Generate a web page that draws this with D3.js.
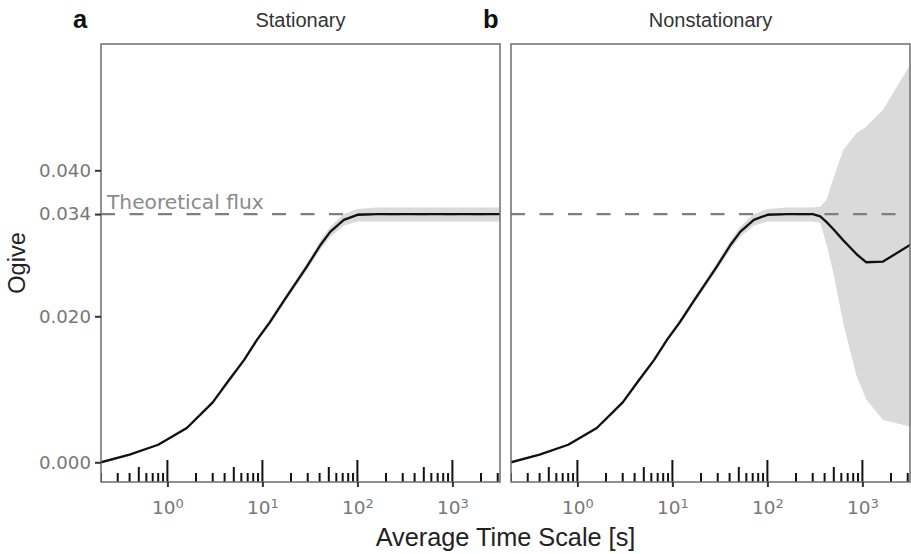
<!DOCTYPE html>
<html><head><meta charset="utf-8">
<script src="https://cdn.jsdelivr.net/npm/d3@7"></script>
<style>body{margin:0;background:#fff}</style>
</head><body>
<svg id="c" width="911" height="554"></svg>
<script>
// ---- data ----
const timeScales = [0.2, 0.4, 0.8, 1.6, 3, 4.3, 6.4, 8.8, 12, 17, 29, 41, 52, 72, 100, 160, 210, 300, 360, 420, 490, 630, 870, 1100, 1650, 3200];
const statMean  = [0, 0.00105, 0.0024, 0.0047, 0.0082, 0.0110, 0.0140, 0.0168, 0.0192, 0.0222, 0.0267, 0.0298, 0.0316, 0.0332, 0.0339, 0.0340, 0.0340, 0.0340, 0.0340, 0.0340, 0.0340, 0.0340, 0.0340, 0.0340, 0.0340, 0.0340];
const statLower = [0, 0.00095, 0.0023, 0.0045, 0.0080, 0.0107, 0.0137, 0.0165, 0.0188, 0.0218, 0.0262, 0.0292, 0.0309, 0.0324, 0.0330, 0.0330, 0.0330, 0.0330, 0.0330, 0.0330, 0.0330, 0.0330, 0.0330, 0.0330, 0.0330, 0.0330];
const statUpper = [0, 0.00115, 0.0025, 0.0049, 0.0084, 0.0113, 0.0143, 0.0171, 0.0196, 0.0226, 0.0272, 0.0304, 0.0323, 0.0340, 0.0347, 0.0349, 0.0349, 0.0349, 0.0349, 0.0349, 0.0349, 0.0349, 0.0349, 0.0349, 0.0349, 0.0349];
const nonMean   = [0, 0.00105, 0.0024, 0.0047, 0.0082, 0.0110, 0.0140, 0.0168, 0.0192, 0.0222, 0.0267, 0.0298, 0.0316, 0.0332, 0.0339, 0.0340, 0.0340, 0.0340, 0.0337, 0.0329, 0.0320, 0.0304, 0.0285, 0.0274, 0.0275, 0.0298];
const nonLower  = [0, 0.00095, 0.0023, 0.0045, 0.0080, 0.0107, 0.0137, 0.0165, 0.0188, 0.0218, 0.0262, 0.0292, 0.0309, 0.0324, 0.0330, 0.0330, 0.0330, 0.0330, 0.0328, 0.0298, 0.0262, 0.0190, 0.0118, 0.0086, 0.0058, 0.0049];
const nonUpper  = [0, 0.00115, 0.0025, 0.0049, 0.0084, 0.0113, 0.0143, 0.0171, 0.0196, 0.0226, 0.0272, 0.0304, 0.0323, 0.0340, 0.0347, 0.0349, 0.0349, 0.0349, 0.0350, 0.0360, 0.0387, 0.0428, 0.0451, 0.0460, 0.0483, 0.0545];
const theoreticalFlux = 0.034;
const yTickValues = [0, 0.020, 0.034, 0.040];
const xMajorTicks = [1, 10, 100, 1000];
const panelTitles = ["Stationary", "Nonstationary"];
const panelTags = ["a", "b"];
const xTitle = "Average Time Scale [s]";
const yTitle = "Ogive";
const annotationText = "Theoretical flux";

// ---- layout ----
const svg = d3.select("#c");
const panels = [
  {x0: 101, x1: 500, mean: statMean, lower: statLower, upper: statUpper},
  {x0: 511, x1: 910, mean: nonMean, lower: nonLower, upper: nonUpper}
];
const pTop = 44, pBottom = 482;
const y = d3.scaleLinear().domain([-0.0027, 0.0573]).range([pBottom, pTop]);
const xDomain = [0.2, 3170];

const logTicks = [];
[0.1, 1, 10, 100, 1000].forEach(d => {
  for (let m = 1; m <= 9; m++) {
    const v = d * m;
    if (v >= xDomain[0] && v <= xDomain[1]) logTicks.push({v, kind: m === 1 ? "major" : (m === 5 ? "mid" : "minor")});
  }
});
const tickLen = {major: 22, mid: 15, minor: 9};

panels.forEach((p, i) => {
  const x = d3.scaleLog().domain(xDomain).range([p.x0, p.x1]);
  const g = svg.append("g");
  const clipId = "clip" + i;
  svg.append("clipPath").attr("id", clipId).append("rect")
    .attr("x", p.x0).attr("y", pTop).attr("width", p.x1 - p.x0).attr("height", pBottom - pTop);
  const pg = g.append("g").attr("clip-path", `url(#${clipId})`);
  const rows = timeScales.map((t, k) => ({t, m: p.mean[k], lo: p.lower[k], hi: p.upper[k]}));
  pg.append("path").datum(rows)
    .attr("d", d3.area().x(d => x(d.t)).y0(d => y(d.lo)).y1(d => y(d.hi)))
    .attr("fill", "#dadada");
  pg.append("line").attr("x1", p.x0).attr("x2", p.x1)
    .attr("y1", y(theoreticalFlux)).attr("y2", y(theoreticalFlux))
    .attr("stroke", "#7f7f7f").attr("stroke-width", 2.4).attr("stroke-dasharray", "14,14.5");
  pg.append("path").datum(rows)
    .attr("d", d3.line().x(d => x(d.t)).y(d => y(d.m)))
    .attr("fill", "none").attr("stroke", "#111").attr("stroke-width", 2.3).attr("stroke-linejoin", "round");
  pg.selectAll("line.lt").data(logTicks).join("line").attr("class", "lt")
    .attr("x1", d => x(d.v)).attr("x2", d => x(d.v))
    .attr("y1", pBottom).attr("y2", d => pBottom - tickLen[d.kind])
    .attr("stroke", "#111").attr("stroke-width", 2);
  if (i === 0) {
    pg.append("text").attr("x", p.x0 + 6).attr("y", y(theoreticalFlux) - 5)
      .attr("font-family", "DejaVu Sans").attr("font-size", 20.2).attr("fill", "#8a8a8a")
      .text(annotationText);
  }
  g.append("rect").attr("x", p.x0).attr("y", pTop).attr("width", p.x1 - p.x0).attr("height", pBottom - pTop)
    .attr("fill", "none").attr("stroke", "#6e6e6e").attr("stroke-width", 1.5);
  const xa = g.append("g").attr("transform", `translate(0,${pBottom})`)
    .call(d3.axisBottom(x).tickValues(xMajorTicks).tickSize(5).tickPadding(8).tickFormat(() => ""));
  xa.select(".domain").remove();
  xa.selectAll(".tick line").attr("stroke", "#333").attr("stroke-width", 2);
  xa.selectAll(".tick text").each(function(d) {
    const t = d3.select(this).attr("font-family", "DejaVu Sans").attr("font-size", 18.5).attr("fill", "#777")
      .attr("dy", "1.05em");
    t.append("tspan").text("10");
    t.append("tspan").attr("dy", "-0.5em").attr("font-size", 13).text(String(Math.round(Math.log10(d))));
  });
  svg.append("text").attr("x", (p.x0 + p.x1) / 2).attr("y", 27).attr("text-anchor", "middle")
    .attr("font-family", "Liberation Sans").attr("font-size", 20).attr("fill", "#333").text(panelTitles[i]);
  svg.append("text").attr("x", p.x0 - 28).attr("y", 28)
    .attr("font-family", "Liberation Sans").attr("font-weight", "bold").attr("font-size", 25.5).attr("fill", "#111").text(panelTags[i]);
});

const ya = svg.append("g").attr("transform", `translate(${panels[0].x0},0)`)
  .call(d3.axisLeft(y).tickValues(yTickValues).tickSize(6).tickPadding(4).tickFormat(d3.format(".3f")));
ya.select(".domain").remove();
ya.selectAll(".tick line").attr("stroke", "#333").attr("stroke-width", 2);
ya.selectAll(".tick text").attr("font-family", "DejaVu Sans").attr("font-size", 18.2).attr("fill", "#777");

svg.append("text").attr("x", 505.5).attr("y", 546).attr("text-anchor", "middle")
  .attr("font-family", "Liberation Sans").attr("font-size", 25.3).attr("fill", "#222").text(xTitle);
svg.append("text").attr("transform", "translate(25,263) rotate(-90)").attr("text-anchor", "middle")
  .attr("font-family", "Liberation Sans").attr("font-size", 23.5).attr("fill", "#222").text(yTitle);
</script>
</body></html>
